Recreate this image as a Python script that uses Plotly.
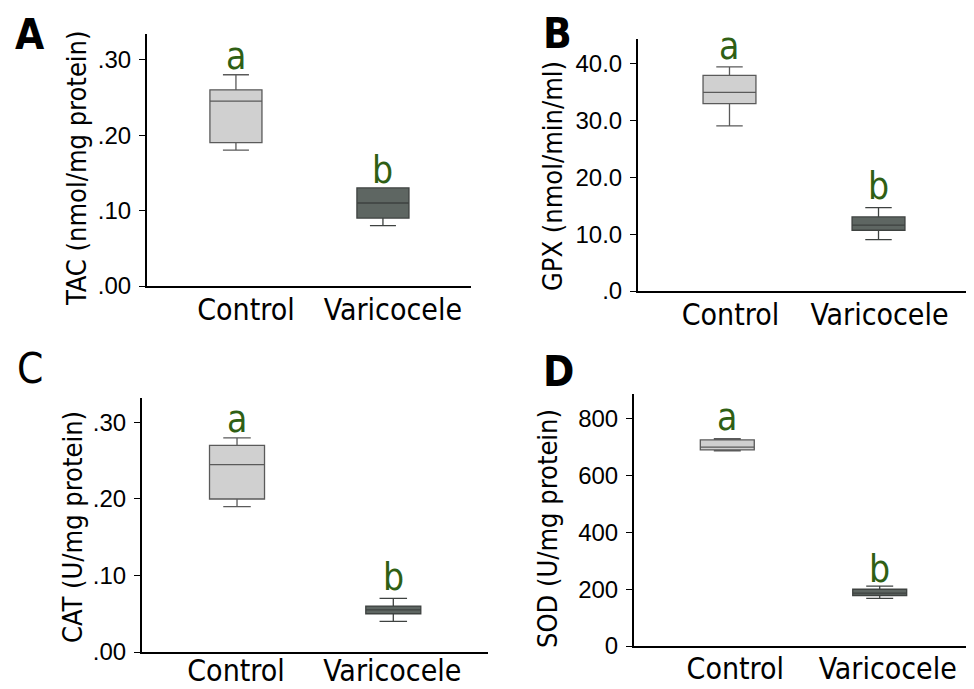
import plotly.graph_objects as go

groups = ["Control", "Varicocele"]

# Panel A: TAC (nmol/mg protein)
tac_min = [0.18, 0.08]
tac_q1 = [0.19, 0.09]
tac_med = [0.245, 0.11]
tac_q3 = [0.26, 0.13]
tac_max = [0.28, 0.13]

# Panel B: GPX (nmol/min/ml)
gpx_min = [29.1, 9.05]
gpx_q1 = [33.0, 10.7]
gpx_med = [35.0, 11.6]
gpx_q3 = [38.0, 13.05]
gpx_max = [39.5, 14.7]

# Panel C: CAT (U/mg protein)
cat_min = [0.19, 0.04]
cat_q1 = [0.20, 0.05]
cat_med = [0.245, 0.055]
cat_q3 = [0.27, 0.06]
cat_max = [0.28, 0.07]

# Panel D: SOD (U/mg protein)
sod_min = [688, 168]
sod_q1 = [691, 178]
sod_med = [701, 186]
sod_q3 = [726, 200]
sod_max = [731, 211]

letters = ["a", "b"]
letter_y_tac = [0.286, 0.135]
letter_y_gpx = [40.7, 16.05]
letter_y_cat = [0.286, 0.080]
letter_y_sod = [756, 223.5]

y_titles = ["TAC (nmol/mg protein)", "GPX (nmol/min/ml)", "CAT (U/mg protein)", "SOD (U/mg protein)"]
panel_labels = ["A", "B", "C", "D"]

tickvals_tac = [0, 0.1, 0.2, 0.3]
ticktext_tac = [".00", ".10", ".20", ".30"]
tickvals_gpx = [0, 10, 20, 30, 40]
ticktext_gpx = [".0", "10.0", "20.0", "30.0", "40.0"]
tickvals_cat = [0, 0.1, 0.2, 0.3]
ticktext_cat = [".00", ".10", ".20", ".30"]
tickvals_sod = [0, 200, 400, 600, 800]
ticktext_sod = ["0", "200", "400", "600", "800"]

fill_colors = ["#d0d0d0", "#5e6662"]
line_colors = ["#5a5a5a", "#3e4240"]
green = "#2f5f14"

NARROW = "DejaVu Sans Condensed, Liberation Sans Narrow, sans-serif"
REG = "Liberation Sans, Arial, sans-serif"

# the page body has an 8px margin, so the figure starts at (8, 8)
OFF = 8
W, H = 974 - OFF, 689 - OFF


def px(x):
    return (x - OFF) / W


def py(y):
    return 1 - (y - OFF) / H


# panel geometry in page pixels: (x_left, x_right, y_top, y_bottom)
panels = [
    (147, 471, 34, 286),
    (638, 970, 39, 291),
    (142, 488, 398, 652),
    (634, 973, 394, 646),
]
# y-axis title centres in page pixels (x, y)
title_pos = [(76, 169), (552, 176), (72, 527), (547, 529)]
label_shift = [10, 1, -1, 8]
label_standoff = [-4, -4, -9, -5]
yranges = [[0, 0.334], [0, 44.4], [0, 0.332], [0, 888]]
xranges = [[-0.605, 1.599], [-0.614, 1.614], [-0.608, 1.606], [-0.612, 1.612]]
box_widths = [0.354, 0.355, 0.352, 0.354]

data = [
    (tac_min, tac_q1, tac_med, tac_q3, tac_max, letter_y_tac, tickvals_tac, ticktext_tac),
    (gpx_min, gpx_q1, gpx_med, gpx_q3, gpx_max, letter_y_gpx, tickvals_gpx, ticktext_gpx),
    (cat_min, cat_q1, cat_med, cat_q3, cat_max, letter_y_cat, tickvals_cat, ticktext_cat),
    (sod_min, sod_q1, sod_med, sod_q3, sod_max, letter_y_sod, tickvals_sod, ticktext_sod),
]

fig = go.Figure()
annotations = []
layout_axes = {}

for p, (mn, q1, md, q3, mx, ly, tv, tt) in enumerate(data):
    sfx = "" if p == 0 else str(p + 1)
    xa, ya = "x" + sfx, "y" + sfx
    for g in range(2):
        fig.add_trace(go.Box(
            x=[groups[g]], q1=[q1[g]], median=[md[g]], q3=[q3[g]],
            lowerfence=[mn[g]], upperfence=[mx[g]],
            fillcolor=fill_colors[g], line=dict(color=line_colors[g], width=1.3),
            width=box_widths[p], whiskerwidth=0.5, boxpoints=False,
            showlegend=False, hoverinfo="skip", xaxis=xa, yaxis=ya,
        ))
        annotations.append(dict(
            x=groups[g], y=ly[g], xref=xa, yref=ya, text=letters[g],
            showarrow=False, yanchor="bottom", yshift=-10,
            font=dict(family=NARROW, size=37, color=green),
        ))
    xl, xr, yt, yb = panels[p]
    layout_axes["xaxis" + sfx] = dict(
        domain=[px(xl), px(xr)], anchor=ya, range=xranges[p], automargin=False,
        type="category", showline=True, linecolor="black", linewidth=2,
        ticks="", showgrid=False, zeroline=False,
        ticklabelstandoff=label_standoff[p], ticklabelshift=label_shift[p],
        tickfont=dict(family=NARROW, size=30, color="black"),
    )
    layout_axes["yaxis" + sfx] = dict(
        domain=[py(yb), py(yt)], anchor=xa, range=yranges[p], automargin=False,
        showline=True, linecolor="black", linewidth=2, ticks="outside",
        ticklen=6, tickwidth=1.3, tickcolor="black", ticklabelstandoff=3,
        tickvals=tv, ticktext=tt, showgrid=False, zeroline=False,
        tickfont=dict(family=REG, size=24, color="black"),
    )
    tx, ty = title_pos[p]
    annotations.append(dict(
        x=px(tx), y=py(ty), xref="paper", yref="paper",
        text=y_titles[p], textangle=-90, showarrow=False,
        xanchor="center", yanchor="middle",
        font=dict(family=NARROW, size=27, color="black"),
    ))

label_pos = [(13, 51), (541, 50), (15, 385), (541, 388)]
for lab, (lx, lyb) in zip(panel_labels, label_pos):
    annotations.append(dict(
        x=px(lx), y=py(lyb), xref="paper", yref="paper",
        text="<b>" + lab + "</b>" if lab != "C" else lab,
        showarrow=False, xanchor="left", yanchor="bottom", yshift=-10,
        font=dict(family=NARROW, size=42, color="black"),
    ))

fig.update_layout(
    width=W, height=H, margin=dict(l=0, r=0, t=0, b=0, autoexpand=False),
    paper_bgcolor="white", plot_bgcolor="white",
    annotations=annotations, boxmode="overlay", **layout_axes,
)

fig.write_html("out.html")
